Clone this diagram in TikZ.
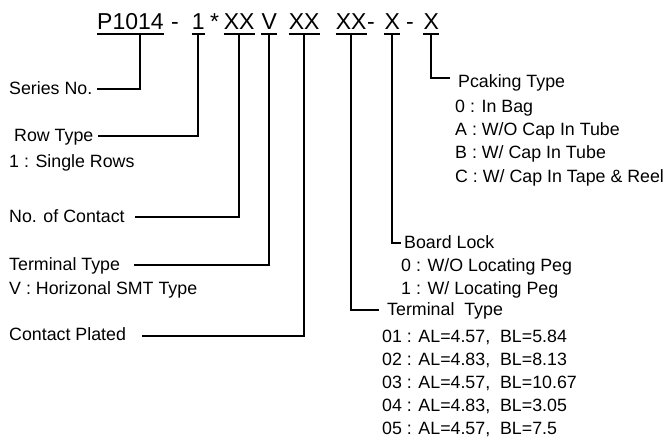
\documentclass[tikz,border=0pt]{standalone}
\usepackage{fontspec}
\setmainfont{Liberation Sans}
\begin{document}
\begin{tikzpicture}[x=1pt,y=-1pt,
  code/.style={inner sep=0pt, anchor=base west, font=\fontsize{23}{27}\selectfont},
  lbl/.style={inner sep=0pt, anchor=base west, font=\fontsize{17.8}{21}\selectfont},
  ul/.style={line width=1.3pt},
  conn/.style={line width=1.4pt}]
\useasboundingbox (0,0) rectangle (666,443);
% code string
\node[code] (c1) at (97,30) {P1014};
\node[code] (d1) at (171,30) {-};
\node[code] (c2) at (191.6,30) {1};
\node[code] (st) at (210,30) {*};
\node[code] (c3) at (223.7,30) {XX};
\node[code] (c4) at (261.3,30) {V};
\node[code] (c5) at (288.7,30) {XX};
\node[code] (c6) at (335.7,30) {XX};
\node[code] (d2) at (367,30) {-};
\node[code] (c7) at (384.3,30) {X};
\node[code] (d3) at (406,30) {-};
\node[code] (c8) at (423.3,30) {X};
\foreach \n in {c1,c2,c3,c4,c5,c6,c7,c8}
  \draw[ul] ([yshift=-4pt]\n.base west) -- ([yshift=-4pt]\n.base east);
% tops of connectors on the underlines
\coordinate (u1) at (140,34);
\coordinate (u2) at (198,34);
\coordinate (u3) at (239,34);
\coordinate (u4) at (269,34);
\coordinate (u5) at (304,34);
\coordinate (u6) at (351,34);
\coordinate (u7) at (392,34);
\coordinate (u8) at (431,34);
% left labels
\node[lbl] (sn) at (9,95) {Series No.};
\node[lbl] (rt) at (14,142) {Row Type};
\node[lbl] (rt1) at (9,168) {1 : Single Rows};
\node[lbl] (nc) at (9,223) {No. of Contact};
\node[lbl] (tt) at (9,271) {Terminal Type};
\node[lbl] (tt1) at (9,295) {V : Horizonal SMT Type};
\node[lbl] (cp) at (9,341) {Contact Plated};
\coordinate (snE) at (97,89);
\coordinate (rtE) at (98,136);
\coordinate (ncE) at (135,217);
\coordinate (ttE) at (134,265);
\coordinate (cpE) at (142,336);
\draw[conn] (u1) |- (snE);
\draw[conn] (u2) |- (rtE);
\draw[conn] (u3) |- (ncE);
\draw[conn] (u4) |- (ttE);
\draw[conn] (u5) |- (cpE);
% right labels
\coordinate (pkE) at (450,78);
\coordinate (blE) at (401,243);
\coordinate (trE) at (379,310);
\draw[conn] (u8) |- (pkE);
\draw[conn] (u7) |- (blE);
\draw[conn] (u6) |- (trE);
\node[lbl] (pk) at (458,88) {Pcaking Type};
\node[lbl] (pk0) at (455,113) {0 : In Bag};
\node[lbl] (pkA) at (455,136) {A : W/O Cap In Tube};
\node[lbl] (pkB) at (455,159) {B : W/ Cap In Tube};
\node[lbl] (pkC) at (455,183) {C : W/ Cap In Tape \& Reel};
\node[lbl] (bl) at (404,249) {Board Lock};
\node[lbl] (bl0) at (401,272) {0 : W/O Locating Peg};
\node[lbl] (bl1) at (401,295) {1 : W/ Locating Peg};
\node[lbl] (tr) at (387,316) {Terminal\ \ Type};
\node[lbl] (tr1) at (382,342) {01 : AL=4.57,\ \ BL=5.84};
\node[lbl] (tr2) at (382,365) {02 : AL=4.83,\ \ BL=8.13};
\node[lbl] (tr3) at (382,388) {03 : AL=4.57,\ \ BL=10.67};
\node[lbl] (tr4) at (382,411) {04 : AL=4.83,\ \ BL=3.05};
\node[lbl] (tr5) at (382,434) {05 : AL=4.57,\ \ BL=7.5};
\end{tikzpicture}
\end{document}
